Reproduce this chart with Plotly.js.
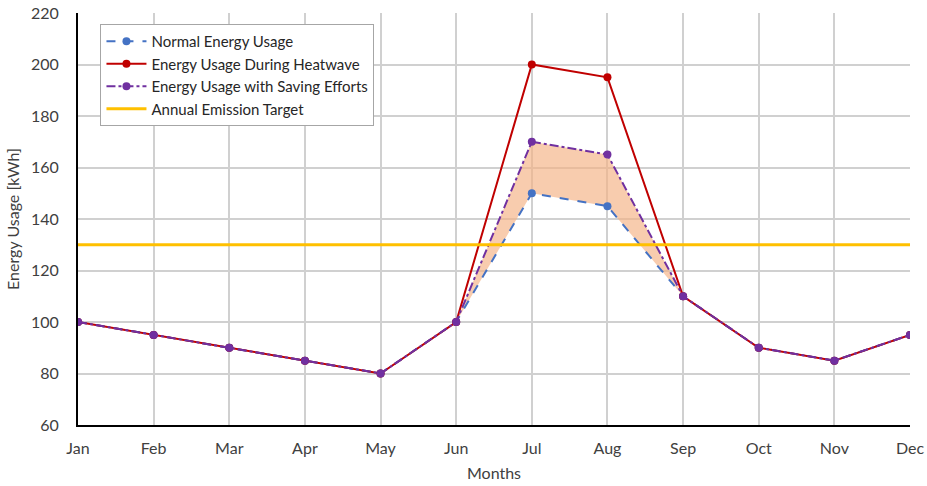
<!DOCTYPE html>
<html><head><meta charset="utf-8">
<script src="https://cdn.plot.ly/plotly-3.0.1.min.js"></script>
<style>body{margin:0;background:#fff}#c{width:927px;height:486px}</style>
</head><body><div id="c"></div>
<script>
const months = ["Jan","Feb","Mar","Apr","May","Jun","Jul","Aug","Sep","Oct","Nov","Dec"];
const normalUsage = [100,95,90,85,80,100,150,145,110,90,85,95];
const heatwaveUsage = [100,95,90,85,80,100,200,195,110,90,85,95];
const savingUsage = [100,95,90,85,80,100,170,165,110,90,85,95];
const emissionTarget = [130,130,130,130,130,130,130,130,130,130,130,130];

const F = "Lato, 'Open Sans', sans-serif";
const traces = [
  {x: months, y: normalUsage, mode: "lines", line: {width: 0}, showlegend: false, hoverinfo: "skip"},
  {x: months, y: savingUsage, mode: "lines", line: {width: 0}, fill: "tonexty",
   fillcolor: "rgba(244,177,131,0.65)", showlegend: false, hoverinfo: "skip"},
  {x: months, y: normalUsage, name: "Normal Energy Usage", mode: "lines+markers", legendgroup: "a",
   line: {color: "#4472C4", width: 2, dash: "dash"}, marker: {color: "#4472C4", size: 8}},
  {x: months, y: heatwaveUsage, name: "Energy Usage During Heatwave", mode: "lines+markers", legendgroup: "b",
   line: {color: "#C00000", width: 2}, marker: {color: "#C00000", size: 8}},
  {x: months, y: savingUsage, name: "Energy Usage with Saving Efforts", mode: "lines+markers", legendgroup: "c",
   line: {color: "#7030A0", width: 2, dash: "dashdot"}, marker: {color: "#7030A0", size: 8}},
  {x: months, y: emissionTarget, name: "Annual Emission Target", mode: "lines", legendgroup: "d",
   line: {color: "#FFC000", width: 3}}
];
const layout = {
  width: 927, height: 486,
  margin: {l: 78, r: 17, t: 13, b: 61},
  paper_bgcolor: "#fff", plot_bgcolor: "#fff",
  font: {family: F, color: "#404040", size: 16},
  showlegend: true,
  legend: {x: 0.027, y: 0.973, xanchor: "left", yanchor: "top", bgcolor: "#fff",
    bordercolor: "#a6a6a6", borderwidth: 1, font: {size: 15, color: "#262626"},
    traceorder: "normal", tracegroupgap: 3, itemwidth: 40},
  xaxis: {type: "category", range: [0, 11], showgrid: true, gridcolor: "#d0d0d0", gridwidth: 2,
    showline: true, linecolor: "#000", linewidth: 2, ticks: "", tickfont: {size: 16},
    ticklabelstandoff: 8,
    title: {text: "Months", font: {size: 16}, standoff: 12}, zeroline: false},
  yaxis: {range: [60, 220], dtick: 20, showgrid: true, gridcolor: "#d0d0d0", gridwidth: 2,
    showline: true, linecolor: "#000", linewidth: 2, ticks: "", tickfont: {size: 16},
    ticklabelstandoff: 14,
    title: {text: "Energy Usage [kWh]", font: {size: 16}, standoff: 7}, zeroline: false}
};
Plotly.newPlot("c", traces, layout, {displayModeBar: false});
</script></body></html>
